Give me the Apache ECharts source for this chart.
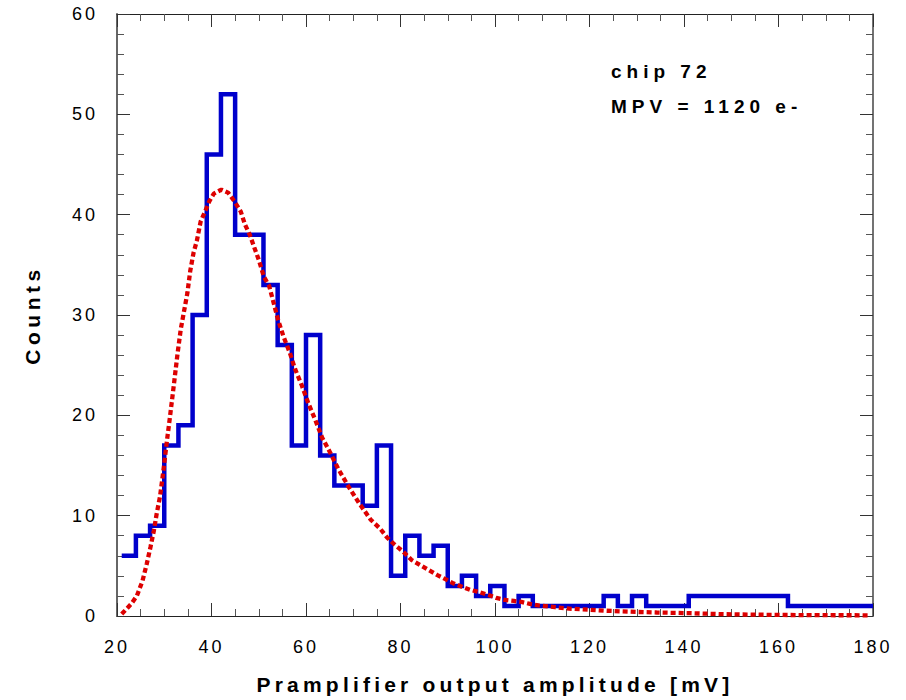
<!DOCTYPE html>
<html><head><meta charset="utf-8">
<script src="https://cdn.jsdelivr.net/npm/echarts@6/dist/echarts.min.js"></script>
<style>html,body{margin:0;padding:0;background:#fff}#chart{width:906px;height:700px}</style>
</head><body><div id="chart"></div>
<script>
// ---- data ----
const binLeftEdges = [21,24,27,30,33,36,39,42,45,48,51,54,57,60,63,66,69,72,75,78,81,84,87,90,93,96,99,102,105,108,111,114,117,120,123,126,129,132,135,138,141,144,147,150,153,156,159,162,165,168,171,174,177];
const binLastEdge = 180;
const binCounts = [6,8,9,17,19,30,46,52,38,38,33,27,17,28,16,13,13,11,17,4,8,6,7,3,4,2,3,1,2,1,1,1,1,1,2,1,2,1,1,1,2,2,2,2,2,2,2,1,1,1,1,1,1];
const fitX = [21.0,23.0,24.2,25.4,26.3,27.1,27.8,28.4,29.1,29.8,30.5,31.2,32.1,32.8,33.5,34.2,34.9,35.5,36.2,36.9,37.7,38.8,39.5,40.5,42.1,43.5,44.9,46.2,47.1,48.1,49.0,50.0,51.1,52.2,53.1,54.1,55.2,56.6,57.7,59.1,60.5,62.0,63.4,65.1,66.9,69.0,71.3,73.7,75.7,77.2,78.8,80.6,82.3,84.1,85.9,87.7,89.4,91.0,93.1,94.8,96.5,98.6,100.3,102.1,104.0,105.6,107.4,109.2,112.7,116.2,119.7,123.3,126.8,130.3,134.2,141.3,148.3,155.4,162.4,169.4,179.0];
const fitY = [0.2,1.2,2.0,3.5,5.2,6.9,8.5,10.2,11.9,14.4,17.2,19.8,23.3,26.1,28.6,30.4,32.2,34.4,36.2,37.4,39.3,40.5,41.3,42.1,42.5,42.2,41.3,40.3,39.0,38.0,36.8,35.5,33.8,32.9,31.3,29.5,27.9,26.2,24.6,23.0,21.2,19.5,17.8,16.3,14.6,12.9,11.2,9.6,8.7,7.8,7.1,6.4,5.6,5.1,4.6,4.1,3.7,3.3,2.9,2.6,2.4,2.1,1.8,1.6,1.5,1.4,1.2,1.06,0.88,0.72,0.63,0.53,0.46,0.4,0.35,0.28,0.18,0.13,0.1,0.08,0.07];
const xName = 'Pramplifier output amplitude [mV]';
const yName = 'Counts';
const annot1 = 'chip 72';
const annot2 = 'MPV = 1120 e-';
const xMin = 20, xMax = 180, xStep = 20;
const yMin = 0, yMax = 60, yStep = 10;

// ---- build ----
const histData = binLeftEdges.map((e,i)=>[e, binCounts[i]]);
histData.push([binLastEdge, binCounts[binCounts.length-1]]);
const fitData = fitX.map((x,i)=>[x, fitY[i]]);

const FONT = '"Liberation Sans", Arial, Helvetica, sans-serif';
const tickStyle = {show:true, inside:true, length:13, lineStyle:{color:'#333', width:1}};
const minorStyle = {length:7, lineStyle:{color:'#555', width:1}};
const lbl = {fontSize:18, color:'#000', fontFamily:FONT};

function xAx(pos, main){
  return {
    type:'value', position:pos, min:xMin, max:xMax, interval:xStep,
    axisLine:{show:true, onZero:false, lineStyle:{color:'#222', width:1}},
    axisTick:tickStyle,
    minorTick:Object.assign({show:true, splitNumber:4}, minorStyle),
    splitLine:{show:false}, minorSplitLine:{show:false},
    axisLabel: main ? Object.assign({show:true, margin:22, interval:0}, lbl) : {show:false},
    name: main ? xName : '',
    nameLocation:'middle', nameGap:58,
    nameTextStyle:{fontSize:21, fontWeight:'bold', color:'#000', fontFamily:FONT}
  };
}
function yAx(pos, main){
  return {
    type:'value', position:pos, min:yMin, max:yMax, interval:yStep,
    axisLine:{show:true, onZero:false, lineStyle:{color: main ? '#666' : '#444', width: main ? 2 : 1.5}},
    axisTick:tickStyle,
    minorTick:Object.assign({show:true, splitNumber:5}, minorStyle),
    splitLine:{show:false}, minorSplitLine:{show:false},
    axisLabel: main ? Object.assign({show:true, margin:19, interval:0}, lbl) : {show:false},
    name: main ? yName : '',
    nameLocation:'middle', nameGap:74,
    nameTextStyle:{fontSize:21, fontWeight:'bold', color:'#000', fontFamily:FONT}
  };
}

const chart = echarts.init(document.getElementById('chart'), null, {renderer:'svg'});
chart.setOption({
  animation:false,
  backgroundColor:'#fff',
  grid:{left:117, right:33, top:14, bottom:82},
  xAxis:[xAx('bottom', true), xAx('top', false)],
  yAxis:[yAx('left', true), yAx('right', false)],
  graphic:[
    {type:'text', left:611, top:62, style:{text:annot1, font:'bold 19px '+FONT, fill:'#000'}},
    {type:'text', left:611, top:97, style:{text:annot2, font:'bold 19px '+FONT, fill:'#000'}}
  ],
  series:[
    {type:'line', data:histData, step:'end', symbol:'none', z:2,
     lineStyle:{color:'#0000cc', width:4.5, join:'miter'}},
    {type:'line', data:fitData, symbol:'none', smooth:false, z:3,
     lineStyle:{color:'#dd0000', width:4.3, type:[5,3], cap:'butt'}}
  ]
});

function applySpacing(){
  document.querySelectorAll('#chart svg text').forEach(t=>{
    const s = t.textContent;
    let ls = 3;
    if (s === yName) ls = 4.5;
    else if (s === xName) ls = 4.2;
    else if (s === annot1 || s === annot2) ls = 5;
    t.setAttribute('letter-spacing', ls);
  });
}
applySpacing();
chart.on('finished', applySpacing);
setTimeout(applySpacing, 50);
</script>
</body></html>
